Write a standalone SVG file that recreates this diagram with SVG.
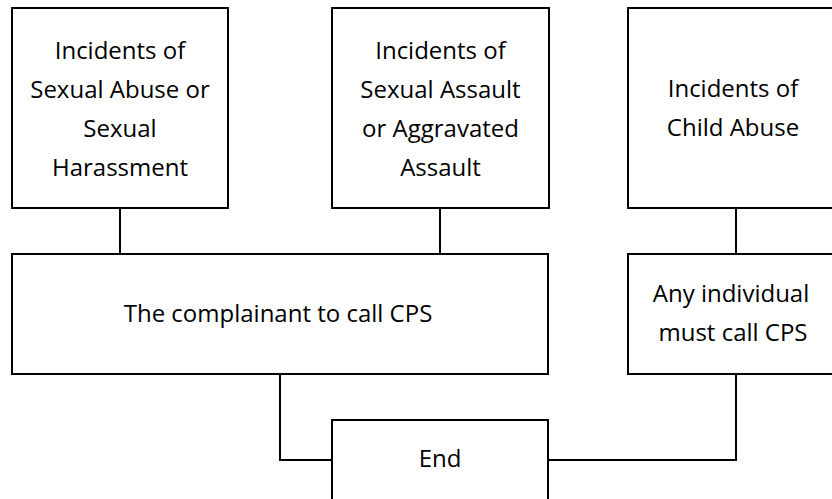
<svg xmlns="http://www.w3.org/2000/svg" width="832" height="499" viewBox="0 0 832 499">
<style>
.box{fill:#fff;stroke:#000;stroke-width:2}
.t{font-family:"Open Sans","Noto Sans",sans-serif;font-size:24px;fill:#000;text-anchor:middle}
.c{fill:none;stroke:#000;stroke-width:2}
</style>
<rect width="832" height="499" fill="#fff"/>
<g id="connectors">
<path class="c" d="M120 208V254"/>
<path class="c" d="M440 208V254"/>
<path class="c" d="M736 208V254"/>
<path class="c" d="M280 374V460H332"/>
<path class="c" d="M736 374V460H548"/>
</g>
<g id="n1">
<rect class="box" x="12" y="8" width="216" height="200"/>
<text class="t" x="120" y="58.5">Incidents of</text>
<text class="t" x="120" y="97.5">Sexual Abuse or</text>
<text class="t" x="120" y="136.5">Sexual</text>
<text class="t" x="120" y="175.5">Harassment</text>
</g>
<g id="n2">
<rect class="box" x="332" y="8" width="217" height="200"/>
<text class="t" x="440.5" y="58.5">Incidents of</text>
<text class="t" x="440.5" y="97.5">Sexual Assault</text>
<text class="t" x="440.5" y="136.5">or Aggravated</text>
<text class="t" x="440.5" y="175.5">Assault</text>
</g>
<g id="n3">
<rect class="box" x="628" y="8" width="220" height="200"/>
<text class="t" x="733" y="97">Incidents of</text>
<text class="t" x="733" y="136">Child Abuse</text>
</g>
<g id="n4">
<rect class="box" x="12" y="254" width="536" height="120"/>
<text class="t" x="278" y="322">The complainant to call CPS</text>
</g>
<g id="n5">
<rect class="box" x="628" y="254" width="220" height="120"/>
<text class="t" x="731" y="302">Any individual</text>
<text class="t" x="733" y="341">must call CPS</text>
</g>
<g id="n6">
<rect class="box" x="332" y="420" width="216" height="90"/>
<text class="t" x="440" y="467">End</text>
</g>
</svg>
